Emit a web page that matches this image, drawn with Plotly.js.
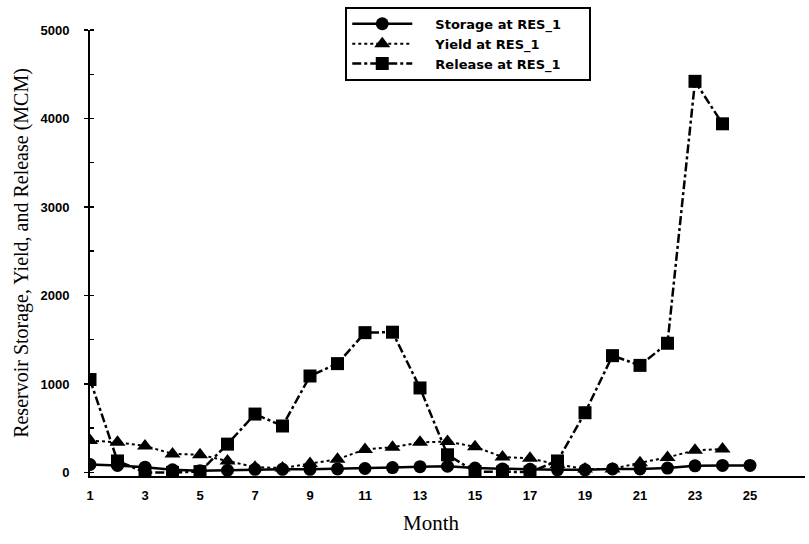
<!DOCTYPE html>
<html>
<head>
<meta charset="utf-8">
<script src="https://cdn.plot.ly/plotly-3.0.1.min.js"></script>
<style>
  html, body { margin: 0; padding: 0; background: #fff; }
  #chart { width: 809px; height: 544px; }
</style>
</head>
<body>
<div id="chart"></div>
<script>
// Monthly reservoir operation at RES_1 (MCM)
const months = [1, 2, 3, 4, 5, 6, 7, 8, 9, 10, 11, 12, 13, 14, 15, 16, 17, 18, 19, 20, 21, 22, 23, 24, 25];
const storage = [90, 80, 60, 30, 20, 25, 35, 35, 35, 40, 45, 55, 65, 70, 50, 40, 35, 30, 30, 40, 40, 50, 75, 80, 80];
const yieldMonths = months.slice(0, 24);
const yieldVals = [360, 340, 300, 210, 200, 130, 60, 50, 100, 150, 260, 285, 340, 350, 290, 175, 160, 90, 40, 40, 110, 170, 250, 265];
const releaseMonths = months.slice(0, 24);
const release = [1050, 130, 0, 0, 10, 320, 660, 525, 1090, 1230, 1580, 1585, 955, 200, 10, 5, 5, 130, 675, 1320, 1210, 1460, 4420, 3940];
const xTicks = [1, 3, 5, 7, 9, 11, 13, 15, 17, 19, 21, 23, 25];
const yTicks = [0, 1000, 2000, 3000, 4000, 5000];
const seriesNames = ['Storage at RES_1', 'Yield at RES_1', 'Release at RES_1'];

const sansFont = 'Liberation Sans, Arial, sans-serif';
const wideSans = 'DejaVu Sans, Verdana, sans-serif';
const serifFont = 'Liberation Serif, Times New Roman, serif';

// spacing around legend labels (sample gap before, box room after)
const padL = '\u00a0\u00a0\u00a0\u00a0';
const padR = '\u00a0\u00a0\u00a0\u00a0\u00a0';

const traces = [
  {
    x: months, y: storage, name: padL + seriesNames[0] + padR, type: 'scatter', mode: 'lines+markers',
    line: { color: '#000', width: 2.5, dash: 'solid' },
    marker: { symbol: 'circle', size: 13, color: '#000' }
  },
  {
    x: yieldMonths, y: yieldVals, name: padL + seriesNames[1], type: 'scatter', mode: 'lines+markers',
    line: { color: '#000', width: 2, dash: 'dot' },
    marker: { symbol: 'triangle-up', size: 14, color: '#000' }
  },
  {
    x: releaseMonths, y: release, name: padL + seriesNames[2] + padR, type: 'scatter', mode: 'lines+markers',
    line: { color: '#000', width: 2.5, dash: 'dashdot' },
    marker: { symbol: 'square', size: 13, color: '#000' }
  }
];

const layout = {
  width: 809, height: 544,
  margin: { l: 90, r: 4, t: 30, b: 68 },
  paper_bgcolor: '#fff', plot_bgcolor: '#fff',
  showlegend: true,
  legend: {
    x: 0.357, y: 1.052, xanchor: 'left', yanchor: 'top',
    bgcolor: '#fff', bordercolor: '#000', borderwidth: 2,
    font: { family: wideSans, size: 13, color: '#000', weight: 'bold' },
    tracegroupgap: 0, itemwidth: 60
  },
  xaxis: {
    range: [1, 27],
    tickvals: xTicks, ticktext: xTicks.map(String),
    showgrid: false, zeroline: false,
    showline: true, linecolor: '#000', linewidth: 2,
    ticks: '', ticklen: 0, ticklabelstandoff: 6,
    tickfont: { family: sansFont, size: 13, color: '#000', weight: 'bold' }
  },
  yaxis: {
    range: [-40, 5000],
    tickvals: yTicks, ticktext: yTicks.map(String),
    showgrid: false, zeroline: false,
    showline: true, linecolor: '#000', linewidth: 2,
    ticks: 'outside', ticklen: 4, tickwidth: 1.5, tickcolor: '#000', ticklabelstandoff: 12,
    minor: { dtick: 500, ticks: 'inside', ticklen: 4, tickwidth: 1.5, tickcolor: '#000', showgrid: false },
    tickfont: { family: sansFont, size: 13, color: '#000', weight: 'bold' },
    title: { text: 'Reservoir Storage, Yield, and Release (MCM)', font: { family: serifFont, size: 20, color: '#000' }, standoff: 6 }
  },
  annotations: [{
    text: 'Month', xref: 'paper', yref: 'paper',
    x: (431 - 90) / 715, y: -0.105, xanchor: 'center', yanchor: 'middle',
    showarrow: false, font: { family: serifFont, size: 21, color: '#000' }
  }]
};

Plotly.newPlot('chart', traces, layout, { displayModeBar: false, staticPlot: true });
</script>
</body>
</html>
